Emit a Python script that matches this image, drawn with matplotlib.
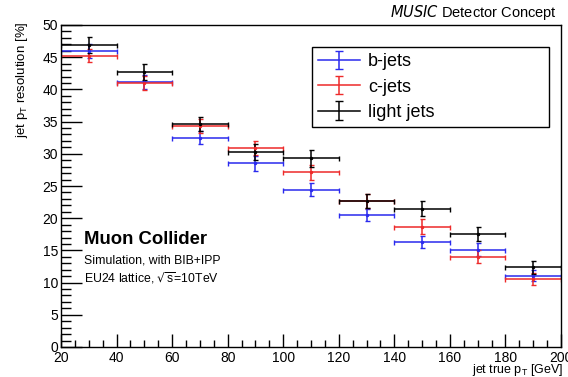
import matplotlib.pyplot as plt
import numpy as np
from matplotlib.ticker import MultipleLocator

plt.rcParams['font.family'] = ['Liberation Sans', 'DejaVu Sans']

# bin edges in jet true pT [GeV]
edges = [20, 40, 60, 80, 100, 120, 140, 160, 180, 200]

# resolution [%] and stat errors
b_res = [46.0, 41.1, 32.5, 28.5, 24.4, 20.5, 16.3, 15.1, 11.1]
b_err = [1.1, 1.1, 1.0, 1.1, 1.0, 1.0, 0.9, 1.0, 0.9]
c_res = [45.2, 41.0, 34.3, 30.9, 27.1, 22.7, 18.7, 14.0, 10.6]
c_err = [1.0, 1.1, 1.1, 1.1, 1.2, 1.1, 1.1, 1.0, 0.9]
l_res = [46.9, 42.7, 34.6, 30.3, 29.3, 22.7, 21.5, 17.5, 12.4]
l_err = [1.2, 1.2, 1.1, 1.2, 1.3, 1.1, 1.2, 1.1, 1.0]

edges = np.array(edges)
centers = 0.5 * (edges[1:] + edges[:-1])
xerr = 0.5 * (edges[1:] - edges[:-1])

fig = plt.figure(figsize=(5.68, 3.77), dpi=100)
ax = fig.add_axes([61 / 568, 1 - 347 / 377, 500 / 568, 322 / 377])

series = [
    (b_res, b_err, '#2a2aee', 'b-jets'),
    (c_res, c_err, '#ee2a2a', 'c-jets'),
    (l_res, l_err, 'black', 'light jets'),
]
handles = []
for res, err, col, lab in series:
    ax.errorbar(centers, res, xerr=xerr, yerr=err, fmt='o', ms=1.5,
                color=col, ecolor=col, elinewidth=1.1, capsize=1.8,
                capthick=1.0)
    # legend proxy: horizontal line with a vertical error bar, like ROOT
    h = ax.errorbar([np.nan], [np.nan], yerr=[np.nan], fmt='-', lw=1.1,
                    color=col, ecolor=col, elinewidth=1.1, capsize=3,
                    capthick=1.0, label=lab)
    handles.append(h)

ax.set_xlim(20, 200)
ax.set_ylim(0, 50)
ax.xaxis.set_major_locator(MultipleLocator(20))
ax.xaxis.set_minor_locator(MultipleLocator(5))
ax.yaxis.set_major_locator(MultipleLocator(5))
ax.yaxis.set_minor_locator(MultipleLocator(1))
ax.tick_params(axis='y', which='major', direction='in', length=15, width=1, labelsize=10, pad=2)
ax.tick_params(axis='y', which='minor', direction='in', length=7.5, width=1)
ax.tick_params(axis='x', which='major', direction='in', length=9.5, width=1, labelsize=10, pad=3)
ax.tick_params(axis='x', which='minor', direction='in', length=5, width=1)
for s in ax.spines.values():
    s.set_linewidth(1.0)

ax.set_ylabel('jet p$_{\\mathregular{T}}$ resolution [%]', fontsize=9.5, loc='top')
ax.yaxis.set_label_coords(-0.062, 1.01)
fig.text(563 / 568, 1 - 370 / 377, 'jet true p$_{\\mathregular{T}}$ [GeV]', ha='right', va='center',
         fontsize=9)

fig.text(557 / 568, 1 - 12 / 377, '$\\mathit{MUSIC}$ Detector Concept', ha='right', va='center',
         fontsize=10.5)
ax.text(0.045, 0.335, 'Muon Collider', transform=ax.transAxes, fontsize=13.3,
        fontweight='bold', va='center')
ax.text(0.045, 0.268, 'Simulation, with BIB+IPP', transform=ax.transAxes, fontsize=8.8, va='center')
ax.text(0.045, 0.213, 'EU24 lattice, $\\sqrt{\\mathregular{s}}$=10TeV', transform=ax.transAxes,
        fontsize=8.8, va='center')

leg = ax.legend(handles=handles, loc='upper left', bbox_to_anchor=(0.502, 0.683, 0.474, 0.249),
                mode='expand', fontsize=13, frameon=True, fancybox=False, edgecolor='black',
                framealpha=1, borderpad=0.35, labelspacing=0.46, handlelength=2.3,
                handletextpad=0.45, borderaxespad=0)
leg.get_frame().set_linewidth(1.0)

fig.savefig('out.png', dpi=100)
